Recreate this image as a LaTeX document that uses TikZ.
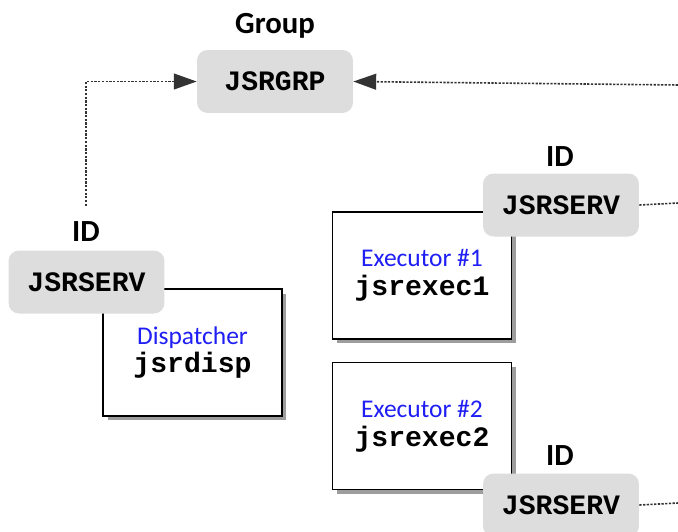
\documentclass[tikz,border=0pt]{standalone}
\usepackage{fontspec}
\setmainfont{Carlito}
\setmonofont{Liberation Mono}
\usepackage{tikz}
\usetikzlibrary{arrows.meta,shadows}

\definecolor{srvgrey}{RGB}{221,221,221}
\definecolor{procblue}{RGB}{30,30,245}

\tikzset{
  srvbox/.style={fill=srvgrey, rounded corners=6pt, minimum width=3.12cm,
    minimum height=1.26cm, font=\ttfamily\bfseries\fontsize{16}{18}\selectfont},
  procbox/.style={draw, line width=1.1pt, fill=white, minimum width=3.58cm,
    minimum height=2.54cm, align=center,
    font=\fontsize{16}{16.4}\selectfont,
    drop shadow={shadow xshift=0.9mm, shadow yshift=-0.9mm, fill=black!70, opacity=0.55}},
  tag/.style={font=\bfseries\fontsize{17.5}{20}\selectfont, inner sep=1pt},
  link/.style={line width=0.9pt, dash pattern=on 1.3pt off 0.8pt, black!80},
  tip/.style={-{Triangle[length=13pt,width=9pt]}}
}

\newcommand{\proctext}[2]{{\color{procblue}\fontsize{14.5}{16.4}\selectfont #1}\\{\ttfamily\bfseries #2}}

\begin{document}
\begin{tikzpicture}[x=0.02cm, y=-0.02cm]
\useasboundingbox (0,0) rectangle (678,531);

\node[srvbox] (grp) at (275,81.5) {JSRGRP};
\node[tag, above=5pt] (grplabel) at (grp.north) {Group};

\node[procbox] (disp) at (192.5,352.5) {\proctext{Dispatcher}{jsrdisp}};
\node[procbox] (exec1) at (422,275.5) {\proctext{Executor \#1}{jsrexec1}};
\node[procbox] (exec2) at (422,426) {\proctext{Executor \#2}{jsrexec2}};

\node[srvbox] (srv0) at (86.5,282) {JSRSERV};
\node[srvbox] (srv1) at (561,205) {JSRSERV};
\node[srvbox] (srv2) at (561,505) {JSRSERV};

\node[tag] (id0) at (86,232) {ID};
\node[tag] (id1) at (560,157) {ID};
\node[tag] (id2) at (560,456) {ID};

\coordinate (edge0) at (678,85);
\coordinate (edge1) at (678,203);
\coordinate (edge2) at (678,503);

\draw[link, tip, shorten <=8pt] (id0.north) |- (grp.west);
\draw[link, tip] (edge0) -- (grp.east);
\draw[link] (srv1.east) -- (edge1);
\draw[link] (srv2.east) -- (edge2);
\end{tikzpicture}
\end{document}
